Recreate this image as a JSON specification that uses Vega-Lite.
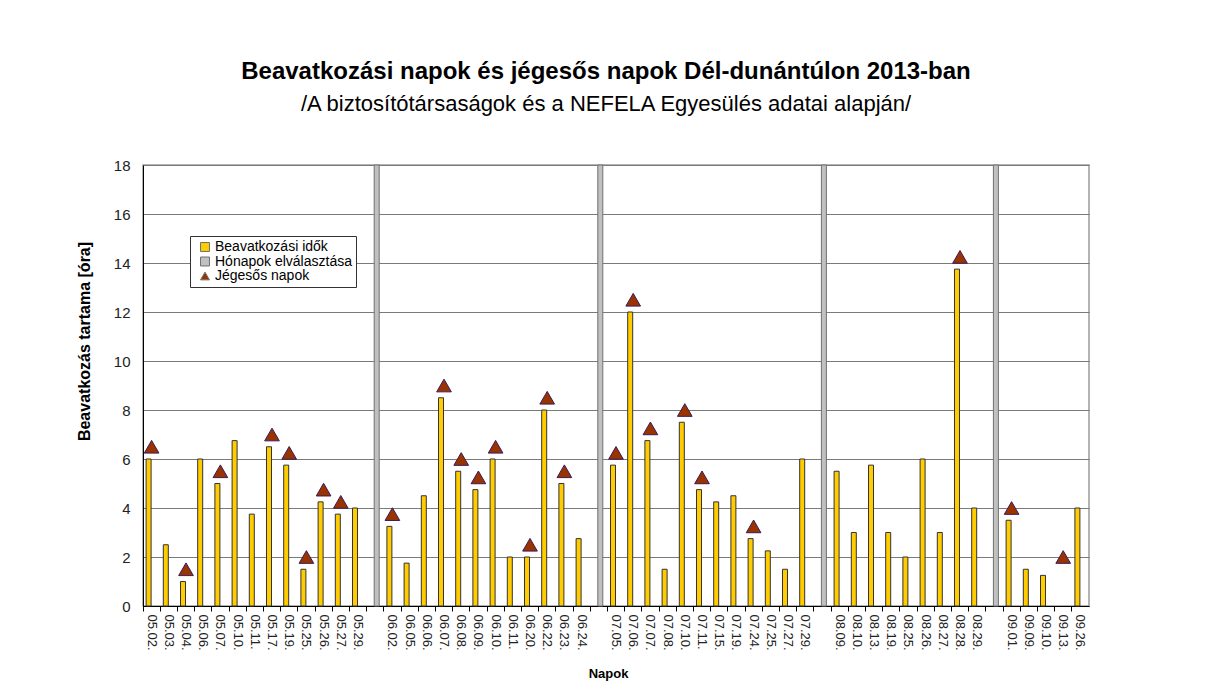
{
  "$schema": "https://vega.github.io/schema/vega-lite/v6.json",
  "autosize": {"type": "none"},
  "width": 946,
  "height": 441,
  "padding": {"left": 143, "top": 165, "right": 119, "bottom": 80},
  "background": "white",
  "config": {
    "font": "Liberation Sans",
    "view": {"stroke": "#9a9a9a", "strokeWidth": 1.5}
  },
  "title": {
    "text": "Beavatkozási napok és jégesős napok Dél-dunántúlon  2013-ban",
    "subtitle": "/A biztosítótársaságok és a NEFELA Egyesülés adatai alapján/",
    "font": "Liberation Sans",
    "fontSize": 24,
    "fontWeight": "bold",
    "color": "#000",
    "subtitleFont": "Liberation Sans",
    "subtitleFontSize": 22,
    "subtitleColor": "#000",
    "subtitlePadding": 10,
    "anchor": "middle",
    "frame": "group",
    "dx": -10,
    "offset": 43
  },
  "data": {
    "values": [
      {"nap": "05.02.", "ido": 6, "jeg": 6.5},
      {"nap": "05.03.", "ido": 2.5},
      {"nap": "05.04.", "ido": 1, "jeg": 1.5},
      {"nap": "05.06.", "ido": 6},
      {"nap": "05.07.", "ido": 5, "jeg": 5.5},
      {"nap": "05.10.", "ido": 6.75},
      {"nap": "05.11.", "ido": 3.75},
      {"nap": "05.17.", "ido": 6.5, "jeg": 7},
      {"nap": "05.19.", "ido": 5.75, "jeg": 6.25},
      {"nap": "05.25.", "ido": 1.5, "jeg": 2},
      {"nap": "05.26.", "ido": 4.25, "jeg": 4.75},
      {"nap": "05.27.", "ido": 3.75, "jeg": 4.25},
      {"nap": "05.29.", "ido": 4},
      {"nap": "s1", "elv": 18},
      {"nap": "06.02.", "ido": 3.25, "jeg": 3.75},
      {"nap": "06.05.", "ido": 1.75},
      {"nap": "06.06.", "ido": 4.5},
      {"nap": "06.07.", "ido": 8.5, "jeg": 9},
      {"nap": "06.08.", "ido": 5.5, "jeg": 6},
      {"nap": "06.09.", "ido": 4.75, "jeg": 5.25},
      {"nap": "06.10.", "ido": 6, "jeg": 6.5},
      {"nap": "06.11.", "ido": 2},
      {"nap": "06.20.", "ido": 2, "jeg": 2.5},
      {"nap": "06.22.", "ido": 8, "jeg": 8.5},
      {"nap": "06.23.", "ido": 5, "jeg": 5.5},
      {"nap": "06.24.", "ido": 2.75},
      {"nap": "s2", "elv": 18},
      {"nap": "07.05.", "ido": 5.75, "jeg": 6.25},
      {"nap": "07.06.", "ido": 12, "jeg": 12.5},
      {"nap": "07.07.", "ido": 6.75, "jeg": 7.25},
      {"nap": "07.08.", "ido": 1.5},
      {"nap": "07.10.", "ido": 7.5, "jeg": 8},
      {"nap": "07.11.", "ido": 4.75, "jeg": 5.25},
      {"nap": "07.15.", "ido": 4.25},
      {"nap": "07.19.", "ido": 4.5},
      {"nap": "07.24.", "ido": 2.75, "jeg": 3.25},
      {"nap": "07.25.", "ido": 2.25},
      {"nap": "07.27.", "ido": 1.5},
      {"nap": "07.29.", "ido": 6},
      {"nap": "s3", "elv": 18},
      {"nap": "08.09.", "ido": 5.5},
      {"nap": "08.10.", "ido": 3},
      {"nap": "08.13.", "ido": 5.75},
      {"nap": "08.19.", "ido": 3},
      {"nap": "08.25.", "ido": 2},
      {"nap": "08.26.", "ido": 6},
      {"nap": "08.27.", "ido": 3},
      {"nap": "08.28.", "ido": 13.75, "jeg": 14.25},
      {"nap": "08.29.", "ido": 4},
      {"nap": "s4", "elv": 18},
      {"nap": "09.01.", "ido": 3.5, "jeg": 4},
      {"nap": "09.09.", "ido": 1.5},
      {"nap": "09.10.", "ido": 1.25},
      {"nap": "09.13.", "jeg": 2},
      {"nap": "09.26.", "ido": 4}
    ]
  },
  "encoding": {
    "x": {
      "field": "nap",
      "type": "nominal",
      "scale": {
        "domain": ["05.02.", "05.03.", "05.04.", "05.06.", "05.07.", "05.10.", "05.11.", "05.17.", "05.19.", "05.25.", "05.26.", "05.27.", "05.29.", "s1",
                   "06.02.", "06.05.", "06.06.", "06.07.", "06.08.", "06.09.", "06.10.", "06.11.", "06.20.", "06.22.", "06.23.", "06.24.", "s2",
                   "07.05.", "07.06.", "07.07.", "07.08.", "07.10.", "07.11.", "07.15.", "07.19.", "07.24.", "07.25.", "07.27.", "07.29.", "s3",
                   "08.09.", "08.10.", "08.13.", "08.19.", "08.25.", "08.26.", "08.27.", "08.28.", "08.29.", "s4",
                   "09.01.", "09.09.", "09.10.", "09.13.", "09.26."],
        "paddingInner": 0,
        "paddingOuter": 0
      },
      "axis": {
        "title": "Napok",
        "titleFont": "Liberation Sans",
        "titleFontSize": 13,
        "titleFontWeight": "bold",
        "titleColor": "#000",
        "titleX": 465,
        "titleY": 71,
        "titleBaseline": "alphabetic",
        "labelAngle": 90,
        "labelFont": "Liberation Sans",
        "labelFontSize": 13,
        "labelColor": "#222",
        "labelPadding": 3,
        "labelExpr": "indexof(datum.label, '.') < 0 ? '' : datum.label",
        "bandPosition": 0,
        "tickColor": "#000",
        "tickSize": 5,
        "domainColor": "#000",
        "labelOverlap": false,
        "grid": false
      }
    }
  },
  "layer": [
    {
      "transform": [{"filter": "isValid(datum.elv)"}],
      "mark": {"type": "bar", "width": 5, "xOffset": 1.5, "stroke": "#707070", "strokeWidth": 1},
      "encoding": {
        "y": {"field": "elv", "type": "quantitative"},
        "color": {"datum": "Hónapok elválasztása"}
      }
    },
    {
      "transform": [{"filter": "isValid(datum.ido)"}],
      "mark": {"type": "bar", "width": 5, "xOffset": -3, "stroke": "#333", "strokeWidth": 1},
      "encoding": {
        "y": {
          "field": "ido",
          "type": "quantitative",
          "scale": {"domain": [0, 18]},
          "axis": {
            "title": "Beavatkozás tartama [óra]",
            "titleFont": "Liberation Sans",
            "titleFontSize": 16,
            "titleFontWeight": "bold",
            "titleColor": "#000",
            "titleX": -51,
            "titleY": 176,
            "titleAngle": -90,
            "titleAlign": "center",
            "titleBaseline": "bottom",
            "values": [0, 2, 4, 6, 8, 10, 12, 14, 16, 18],
            "labelFont": "Liberation Sans",
            "labelFontSize": 15,
            "labelColor": "#222",
            "labelPadding": 13,
            "ticks": false,
            "domainColor": "#000",
            "gridColor": "#7a7a7a",
            "gridWidth": 1.2
          }
        },
        "color": {"datum": "Beavatkozási idők"}
      }
    },
    {
      "transform": [{"filter": "isValid(datum.jeg)"}],
      "mark": {"type": "point", "filled": true, "size": 215, "stroke": "#3a1a5a", "strokeWidth": 1, "opacity": 1},
      "encoding": {
        "y": {"field": "jeg", "type": "quantitative"},
        "color": {
          "datum": "Jégesős napok",
          "scale": {
            "domain": ["Beavatkozási idők", "Hónapok elválasztása", "Jégesős napok"],
            "range": ["#FFCC00", "#C0C0C0", "#993300"]
          },
          "legend": {
            "title": null,
            "orient": "none",
            "legendX": 47,
            "legendY": 71,
            "fillColor": "white",
            "strokeColor": "#333",
            "padding": 4,
            "rowPadding": 0.5,
            "labelFont": "Liberation Sans",
            "labelFontSize": 14,
            "labelColor": "#000",
            "symbolSize": 80,
            "symbolStrokeColor": "#333",
            "symbolStrokeWidth": 1,
            "symbolOffset": 4,
            "labelOffset": 3
          }
        },
        "shape": {
          "datum": "Jégesős napok",
          "scale": {
            "domain": ["Beavatkozási idők", "Hónapok elválasztása", "Jégesős napok"],
            "range": ["square", "square", "triangle-up"]
          },
          "legend": {
            "title": null,
            "orient": "none",
            "legendX": 47,
            "legendY": 71
          }
        }
      }
    }
  ]
}
